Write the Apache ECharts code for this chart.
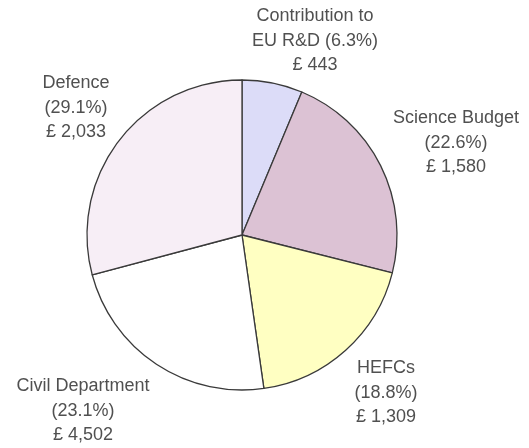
<!DOCTYPE html>
<html>
<head>
<meta charset="utf-8">
<script src="https://cdn.jsdelivr.net/npm/echarts@6/dist/echarts.min.js"></script>
<style>
html,body{margin:0;padding:0;background:#fff;}
#c{width:529px;height:448px;}
</style>
</head>
<body>
<div id="c"></div>
<script>
var categories = ['Contribution to\nEU R&D', 'Science Budget', 'HEFCs', 'Civil Department', 'Defence'];
var percents = [6.3, 22.6, 18.8, 23.1, 29.1];
var amounts = ['443', '1,580', '1,309', '4,502', '2,033'];
var colors = ['#dcdcf8', '#dcc2d4', '#ffffc2', '#ffffff', '#f7eef6'];
var labelPos = [[315, 41], [456, 143], [386, 393], [83, 411], [76, 108]];

var chart = echarts.init(document.getElementById('c'), null, {renderer: 'canvas'});
var data = categories.map(function (c, i) {
  var txt;
  if (i === 0) txt = 'Contribution to\nEU R&D (' + percents[i].toFixed(1) + '%)\n£ ' + amounts[i];
  else txt = c + '\n(' + percents[i].toFixed(1) + '%)\n£ ' + amounts[i];
  return {name: c, value: percents[i], itemStyle: {color: colors[i]}, label: {formatter: txt}};
});
chart.setOption({
  animation: false,
  backgroundColor: '#ffffff',
  series: [{
    type: 'pie',
    center: [242, 235],
    radius: [0, 155],
    startAngle: 90,
    clockwise: true,
    avoidLabelOverlap: false,
    itemStyle: {borderColor: '#3a3a3a', borderWidth: 1.3},
    label: {
      show: true,
      position: 'outside',
      color: '#505050',
      fontFamily: 'Liberation Sans, Arial, sans-serif',
      fontSize: 18,
      lineHeight: 24.5,
      align: 'center'
    },
    labelLine: {show: false},
    labelLayout: function (params) {
      var p = labelPos[params.dataIndex];
      return {x: p[0], y: p[1], align: 'center', verticalAlign: 'middle'};
    },
    emphasis: {disabled: true},
    data: data
  }]
});
</script>
</body>
</html>
